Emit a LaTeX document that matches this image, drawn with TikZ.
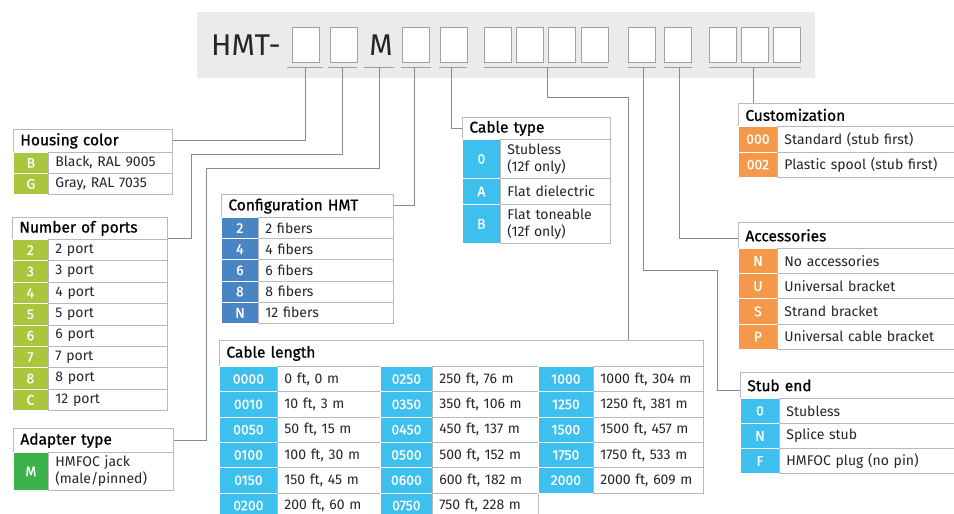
\documentclass[tikz,border=0pt]{standalone}
\usepackage{fontspec}
\setmainfont{Fira Sans}
\newfontfamily\hdrfam{Fira Sans}[FakeBold=0.8]
\usetikzlibrary{positioning}

\definecolor{limeg}{HTML}{A8C73C}
\definecolor{darkg}{HTML}{3BB24A}
\definecolor{steelb}{HTML}{4A85C3}
\definecolor{skyb}{HTML}{3DC0EE}
\definecolor{orng}{HTML}{F4994A}
\definecolor{cellgray}{HTML}{B8B8B8}
\definecolor{linegray}{HTML}{8A8A8A}
\definecolor{slotgray}{HTML}{A0A0A0}
\definecolor{bargray}{HTML}{EBEBEB}
\definecolor{txtgray}{HTML}{262626}

\newcommand{\hdrfont}{\fontsize{15.5}{17}\selectfont\hdrfam}
\newcommand{\cellfont}{\fontsize{14}{17}\selectfont}
\newcommand{\codefont}{\fontsize{14}{15}\selectfont\hdrfam}

\begin{document}
\begin{tikzpicture}[
    x=1pt, y=-1pt,
    hdr/.style={draw=cellgray, line width=0.8pt, fill=white, anchor=north west,
        inner xsep=7pt, inner ysep=0pt, align=left, font=\hdrfont},
    cell/.style={draw=cellgray, line width=0.8pt, fill=white, anchor=north west,
        inner xsep=7pt, inner ysep=0pt, align=left, font=\cellfont, text=txtgray},
    codecell/.style={fill=#1, draw=white, line width=0.8pt, anchor=north west,
        inner sep=0pt, font=\codefont, text=white},
    slot/.style={draw=slotgray, fill=white, line width=0.8pt, anchor=north west,
        minimum width=27pt, minimum height=35pt, inner sep=0pt},
    uline/.style={draw=slotgray, line width=0.8pt},
    conn/.style={draw=linegray, line width=0.9pt}
]
\useasboundingbox (0,0) rectangle (954,514);
\clip (0,0) rectangle (954,514);

% Part number bar
\node[fill=bargray, anchor=north west, minimum width=618pt, minimum height=66pt, inner sep=0pt] (bar) at (197,12) {};
\node[anchor=west, font=\fontsize{30}{30}\selectfont, text=txtgray, inner sep=0pt] (hmt) at (211,45) {HMT-};
\node[font=\fontsize{30}{30}\selectfont, text=txtgray, inner sep=0pt] (mfix) at (381,45) {M};
\foreach \sx [count=\i] in {292,330,402,440,484,516,548,581,628,664,709,741,773}
    \node[slot] (s\i) at (\sx,27) {};

% Underlines below the slots
\foreach \ua/\ub in {287/323, 328/357, 364/394, 401/431, 439/467, 484/608, 628/656, 664/692, 709/801}
    \draw[uline] (\ua,67) -- (\ub,67);
\foreach \ux [count=\i] in {305,342,379,414,451,547,643,679,753}
    \coordinate (u\i) at (\ux,67);

% Housing color
\node[hdr, text width=145pt, minimum height=23pt] (hhead) at (13,129) {Housing color};
\foreach \c/\t [count=\i from 0] in {B/{Black, RAL 9005}, G/{Gray, RAL 7035}} {
    \node[codecell=limeg, minimum width=35pt, minimum height=21pt] (hc\i) at (13,{152+21*\i}) {\c};
    \node[cell, text width=110pt, minimum height=21pt] (ht\i) at (48,{152+21*\i}) {\t};
}

% Number of ports
\node[hdr, text width=141pt, minimum height=22pt] (phead) at (12,217) {Number of ports};
\foreach \c/\t [count=\i from 0] in {2/2 port, 3/3 port, 4/4 port, 5/5 port, 6/6 port, 7/7 port, 8/8 port, C/12 port} {
    \node[codecell=limeg, minimum width=36pt, minimum height=21.4pt] (pc\i) at (12,{239+21.4*\i}) {\c};
    \node[cell, text width=105pt, minimum height=21.4pt] (pt\i) at (48,{239+21.4*\i}) {\t};
}

% Adapter type
\node[hdr, text width=146pt, minimum height=24pt] (ahead) at (13,428) {Adapter type};
\node[codecell=darkg, minimum width=35pt, minimum height=38pt] (ac0) at (13,452) {M};
\node[cell, text width=111pt, minimum height=38pt] (at0) at (48,452) {HMFOC jack\\(male/pinned)};

% Configuration HMT
\node[hdr, text width=158pt, minimum height=23pt] (chead) at (221,194) {Configuration HMT};
\foreach \c/\t [count=\i from 0] in {2/2 fibers, 4/4 fibers, 6/6 fibers, 8/8 fibers, N/12 fibers} {
    \node[codecell=steelb, minimum width=37pt, minimum height=21.2pt] (cc\i) at (221,{217+21.2*\i}) {\c};
    \node[cell, text width=121pt, minimum height=21.2pt] (ct\i) at (258,{217+21.2*\i}) {\t};
}

% Cable type
\node[hdr, text width=134pt, minimum height=22pt] (thead) at (462,117) {Cable type};
\node[codecell=skyb, minimum width=38pt, minimum height=39pt] (tc0) at (462,139) {0};
\node[cell, text width=96pt, minimum height=39pt] (tt0) at (500,139) {Stubless\\(12f only)};
\node[codecell=skyb, minimum width=38pt, minimum height=26pt] (tc1) at (462,178) {A};
\node[cell, text width=96pt, minimum height=26pt] (tt1) at (500,178) {Flat dielectric};
\node[codecell=skyb, minimum width=38pt, minimum height=39pt] (tc2) at (462,204) {B};
\node[cell, text width=96pt, minimum height=39pt] (tt2) at (500,204) {Flat toneable\\(12f only)};

% Cable length
\node[hdr, text width=470pt, minimum height=26pt] (lhead) at (219,340) {Cable length};
\foreach \c/\t [count=\i from 0] in {0000/{0 ft, 0 m}, 0010/{10 ft, 3 m}, 0050/{50 ft, 15 m},
        0100/{100 ft, 30 m}, 0150/{150 ft, 45 m}, 0200/{200 ft, 60 m}} {
    \node[codecell=skyb, minimum width=58pt, minimum height=25.3pt] (la\i) at (219,{366+25.3*\i}) {\c};
    \node[cell, text width=89pt, minimum height=25.3pt] (lta\i) at (277,{366+25.3*\i}) {\t};
}
\foreach \c/\t [count=\i from 0] in {0250/{250 ft, 76 m}, 0350/{350 ft, 106 m}, 0450/{450 ft, 137 m},
        0500/{500 ft, 152 m}, 0600/{600 ft, 182 m}, 0750/{750 ft, 228 m}} {
    \node[codecell=skyb, minimum width=52pt, minimum height=25.3pt] (lb\i) at (380,{366+25.3*\i}) {\c};
    \node[cell, text width=92pt, minimum height=25.3pt] (ltb\i) at (432,{366+25.3*\i}) {\t};
}
\foreach \c/\t [count=\i from 0] in {1000/{1000 ft, 304 m}, 1250/{1250 ft, 381 m}, 1500/{1500 ft, 457 m},
        1750/{1750 ft, 533 m}, 2000/{2000 ft, 609 m}} {
    \node[codecell=skyb, minimum width=55pt, minimum height=25.3pt] (lc\i) at (538,{366+25.3*\i}) {\c};
    \node[cell, text width=96pt, minimum height=25.3pt] (ltc\i) at (593,{366+25.3*\i}) {\t};
}

% Customization
\node[hdr, text width=226pt, minimum height=23pt] (cuhead) at (738,103) {Customization};
\foreach \c/\t [count=\i from 0] in {000/Standard (stub first), 002/Plastic spool (stub first)} {
    \node[codecell=orng, minimum width=39pt, minimum height=25.5pt] (cuc\i) at (738,{126+25.5*\i}) {\c};
    \node[cell, text width=186pt, minimum height=25.5pt] (cut\i) at (777,{126+25.5*\i}) {\t};
}

% Accessories
\node[hdr, text width=226pt, minimum height=26pt] (achead) at (738,222) {Accessories};
\foreach \c/\t [count=\i from 0] in {N/No accessories, U/Universal bracket, S/Strand bracket, P/Universal cable bracket} {
    \node[codecell=orng, minimum width=39pt, minimum height=25.2pt] (acc\i) at (738,{248+25.2*\i}) {\c};
    \node[cell, text width=186pt, minimum height=25.2pt] (act\i) at (777,{248+25.2*\i}) {\t};
}

% Stub end
\node[hdr, text width=226pt, minimum height=26pt] (shead) at (740,372) {Stub end};
\foreach \c/\t [count=\i from 0] in {0/Stubless, N/Splice stub, F/HMFOC plug (no pin)} {
    \node[codecell=skyb, minimum width=39pt, minimum height=25pt] (sc\i) at (740,{398+25*\i}) {\c};
    \node[cell, text width=186pt, minimum height=25pt] (st\i) at (779,{398+25*\i}) {\t};
}

% Connectors from the slots to the tables
\draw[conn] (u1) |- (hhead.east);
\draw[conn] (u2) |- (191,154) |- ([yshift=1pt]phead.south east);
\draw[conn] (u3) |- (206,168) |- (ahead.east);
\draw[conn] (u4) |- (chead.east);
\draw[conn] (u5) |- (thead.west);
\coordinate (lbend) at (628,97);
\draw[conn] (u6) |- (lbend) -- (lbend |- lhead.north);
\draw[conn] (u7) |- (717,270) |- ([yshift=-5pt]shead.west);
\draw[conn] (u8) |- ([yshift=-3pt]achead.west);
\draw[conn] (u9) -- (u9 |- cuhead.north);

\end{tikzpicture}
\end{document}
